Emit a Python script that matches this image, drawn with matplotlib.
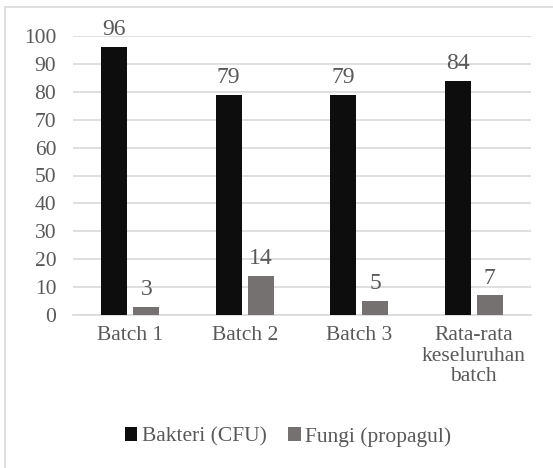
import matplotlib
matplotlib.use("Agg")
import matplotlib.pyplot as plt
from matplotlib.patches import Rectangle
import numpy as np

categories = ["Batch 1", "Batch 2", "Batch 3", "Rata-rata\nkeseluruhan\nbatch"]
bakteri = [96, 79, 79, 84]
fungi = [3, 14, 5, 7]
series_names = ["Bakteri (CFU)", "Fungi (propagul)"]
yticks = [0, 10, 20, 30, 40, 50, 60, 70, 80, 90, 100]

plt.rcParams['font.family'] = ['Liberation Serif', 'DejaVu Serif']
TXT = '#595959'
W, H = 553, 468
fig = plt.figure(figsize=(W/100, H/100), dpi=100)

# outer chart border (only top/left visible in reference)
fig.patches.append(Rectangle((5/W, -0.2), 2, 1.2 - 7/H, transform=fig.transFigure,
                             fill=False, edgecolor='#d9d9d9', linewidth=1.2))

ax = fig.add_axes([73/W, 1 - 315/H, (531-73)/W, (315-36)/H])
x = np.arange(len(categories))
bw = 0.227
off = 0.14
b1 = ax.bar(x - off, bakteri, bw, color='#0d0d0d', label=series_names[0], zorder=3)
b2 = ax.bar(x + off, fungi, bw, color='#767171', label=series_names[1], zorder=3)
for bars, vals in ((b1, bakteri), (b2, fungi)):
    for r, v in zip(bars, vals):
        ax.annotate(str(v), (r.get_x() + r.get_width()/2, v), xytext=(0, 5),
                    textcoords='offset points', ha='center', va='bottom',
                    fontsize=17, color=TXT)

ax.set_xlim(-0.5, len(categories) - 0.5)
ax.set_ylim(0, 100)
ax.set_yticks(yticks)
ax.set_xticks(x)
ax.set_xticklabels(categories, linespacing=1.12)
ax.tick_params(axis='both', length=0, labelsize=15.5, colors=TXT)
ax.tick_params(axis='y', pad=12)
ax.tick_params(axis='x', pad=8)
ax.yaxis.grid(True, color='#d9d9d9', linewidth=1.2, zorder=0)
for s in ['top', 'right', 'left']:
    ax.spines[s].set_visible(False)
ax.spines['bottom'].set_color('#d9d9d9')
ax.spines['bottom'].set_linewidth(1.2)
ax.set_facecolor('none')

fig.legend(handles=[b1, b2], labels=series_names, loc='center',
           bbox_to_anchor=(288/W, 1 - 437/H), ncol=2, frameon=False,
           fontsize=15.5, labelcolor=TXT, handlelength=0.6, handleheight=0.6,
           handletextpad=0.2, columnspacing=1.0)

fig.savefig('out.png', dpi=100)
